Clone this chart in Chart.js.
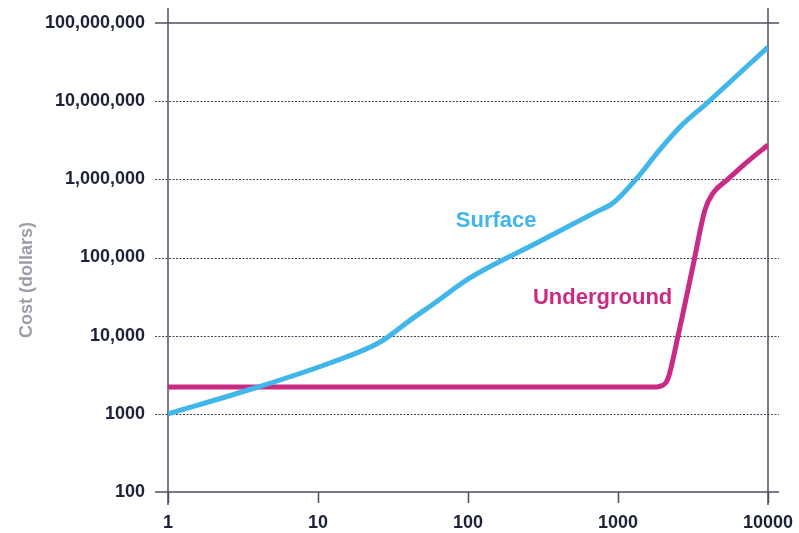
<!DOCTYPE html>
<html>
<head>
<meta charset="utf-8">
<title>Surface vs underground cost</title>
<script src="https://cdn.jsdelivr.net/npm/chart.js@4/dist/chart.umd.min.js"></script>
<style>
  html, body { margin: 0; padding: 0; background: #ffffff; }
  canvas { display: block; }
</style>
</head>
<body>
<canvas id="chart" width="799" height="533"></canvas>
<script>
// Surface curve (x, cost in dollars)
const surfaceX = [1, 3.8, 12, 26, 41, 60, 103, 300, 700, 926, 1340, 1820, 2590, 3920, 10000];
const surfaceY = [1000, 2140, 4470, 8300, 15700, 26200, 54700, 160000, 375000, 498000, 1040000, 2170000, 4670000, 9460000, 49300000];

// Underground curve (x, cost in dollars)
const undergroundX = [1, 1700, 1900, 2150, 2510, 3160, 3800, 4300, 5330, 7240, 10000];
const undergroundY = [2200, 2200, 2250, 2800, 9800, 77600, 407000, 668000, 980000, 1660000, 2750000];

// Axis ticks
const xTickValues = [1, 10, 100, 1000, 10000];
const xTickLabels = ['1', '10', '100', '1000', '10000'];
const yTickValues = [100, 1000, 10000, 100000, 1000000, 10000000, 100000000];
const yTickLabels = ['100', '1000', '10,000', '100,000', '1,000,000', '10,000,000', '100,000,000'];

const yAxisTitle = 'Cost (dollars)';
const seriesLabels = ['Surface', 'Underground'];
// Where the series names sit, in data coordinates
const surfaceLabelAt = { x: 154, y: 290000 };
const undergroundLabelAt = { x: 790, y: 30000 };

const BLUE = '#41b6e8';
const PINK = '#c92a83';
const INK = '#1c2238';
const AXIS = '#4a4f64';

const toPoints = (xs, ys) => xs.map((x, i) => ({ x: x, y: ys[i] }));

// Frame, dotted decade lines, axis title and in-plot series names
const framePlugin = {
  id: 'frame',
  beforeDatasetsDraw(chart) {
    const { ctx } = chart;
    const xs = chart.scales.x, ys = chart.scales.y;
    const left = xs.getPixelForValue(1), right = xs.getPixelForValue(10000);
    const top = ys.getPixelForValue(100000000), bottom = ys.getPixelForValue(100);
    ctx.save();
    // dotted decade lines
    ctx.strokeStyle = '#3f4459';
    ctx.lineWidth = 1;
    ctx.setLineDash([2, 1.5]);
    yTickValues.slice(1, -1).forEach(v => {
      const y = Math.round(ys.getPixelForValue(v)) + 0.5;
      ctx.beginPath();
      ctx.moveTo(left - 13, y);
      ctx.lineTo(right + 11, y);
      ctx.stroke();
    });
    ctx.setLineDash([]);
    // solid top and bottom lines
    ctx.strokeStyle = AXIS;
    ctx.lineWidth = 1.5;
    [top, bottom].forEach(y => {
      ctx.beginPath();
      ctx.moveTo(left - 13, y);
      ctx.lineTo(right + 11, y);
      ctx.stroke();
    });
    // vertical axis lines, both sides
    [left, right].forEach(x => {
      ctx.beginPath();
      ctx.moveTo(x, top - 15);
      ctx.lineTo(x, bottom + 13);
      ctx.stroke();
    });
    // y axis title
    ctx.fillStyle = '#9b9dab';
    ctx.font = 'bold 18px "Liberation Sans", Arial, sans-serif';
    ctx.textAlign = 'center';
    ctx.textBaseline = 'middle';
    ctx.translate(27, 280);
    ctx.rotate(-Math.PI / 2);
    ctx.fillText(yAxisTitle, 0, 0);
    ctx.restore();
  },
  afterDatasetsDraw(chart) {
    const { ctx } = chart;
    const xs = chart.scales.x, ys = chart.scales.y;
    ctx.save();
    ctx.font = 'bold 22px "Liberation Sans", Arial, sans-serif';
    ctx.textAlign = 'center';
    ctx.textBaseline = 'middle';
    ctx.fillStyle = BLUE;
    ctx.fillText(seriesLabels[0], xs.getPixelForValue(surfaceLabelAt.x), ys.getPixelForValue(surfaceLabelAt.y));
    ctx.fillStyle = PINK;
    ctx.fillText(seriesLabels[1], xs.getPixelForValue(undergroundLabelAt.x), ys.getPixelForValue(undergroundLabelAt.y));
    ctx.restore();
  }
};

const tickFont = { family: '"Liberation Sans", Arial, sans-serif', size: 18, weight: 'bold' };

new Chart(document.getElementById('chart'), {
  type: 'line',
  data: {
    datasets: [
      {
        label: seriesLabels[0],
        data: toPoints(surfaceX, surfaceY),
        borderColor: BLUE,
        borderWidth: 5,
        pointRadius: 0,
        cubicInterpolationMode: 'monotone',
        borderCapStyle: 'butt',
        borderJoinStyle: 'round'
      },
      {
        label: seriesLabels[1],
        data: toPoints(undergroundX, undergroundY),
        borderColor: PINK,
        borderWidth: 5,
        pointRadius: 0,
        cubicInterpolationMode: 'monotone',
        borderCapStyle: 'butt',
        borderJoinStyle: 'round'
      }
    ]
  },
  options: {
    responsive: false,
    animation: false,
    devicePixelRatio: 1,
    layout: { padding: { top: 23, right: 31, left: 0, bottom: 0 } },
    plugins: {
      legend: { display: false },
      tooltip: { enabled: false }
    },
    scales: {
      x: {
        type: 'logarithmic',
        min: 1,
        max: 10000,
        border: { display: false },
        grid: {
          drawOnChartArea: false,
          drawTicks: true,
          tickLength: 11,
          tickColor: AXIS,
          tickWidth: 1.5
        },
        afterBuildTicks: s => { s.ticks = xTickValues.map(v => ({ value: v })); },
        afterFit: s => { s.height = 41; s.paddingLeft = 0; s.paddingRight = 0; },
        ticks: {
          autoSkip: false,
          maxRotation: 0,
          padding: 9,
          color: INK,
          font: tickFont,
          callback: (v, i) => xTickLabels[i]
        }
      },
      y: {
        type: 'logarithmic',
        min: 100,
        max: 100000000,
        border: { display: false },
        grid: {
          drawOnChartArea: false,
          drawTicks: true,
          tickLength: 13,
          tickColor: 'rgba(0,0,0,0)'
        },
        afterBuildTicks: s => { s.ticks = yTickValues.map(v => ({ value: v })); },
        afterFit: s => { s.width = 168; s.paddingTop = 0; s.paddingBottom = 0; },
        ticks: {
          autoSkip: false,
          padding: 10,
          color: INK,
          font: tickFont,
          callback: (v, i) => yTickLabels[i]
        }
      }
    }
  },
  plugins: [framePlugin]
});
</script>
</body>
</html>
